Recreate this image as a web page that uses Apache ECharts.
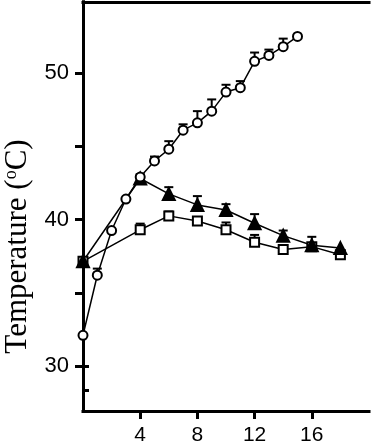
<!DOCTYPE html>
<html>
<head>
<meta charset="utf-8">
<script src="https://cdn.jsdelivr.net/npm/echarts@6/dist/echarts.min.js"></script>
<style>
  html, body { margin: 0; padding: 0; background: #fff; }
  #chart { width: 371px; height: 447px; }
</style>
</head>
<body>
<div id="chart"></div>
<script>
// open circles, hourly
const hoursA = [0, 1, 2, 3, 4, 5, 6, 7, 8, 9, 10, 11, 12, 13, 14, 15];
const circleTemp = [32.1, 36.2, 39.25, 41.4, 42.9, 44.0, 44.8, 46.1, 46.6, 47.4, 48.7, 49.0, 50.8, 51.2, 51.8, 52.5];
const circleErr = [0, 0.45, 0, 0, 0.2, 0.3, 0.55, 0.4, 0.8, 0.8, 0.5, 0.45, 0.6, 0.4, 0.55, 0];

// filled triangles and open squares, every 2 h
const hoursB = [0, 4, 6, 8, 10, 12, 14, 16, 18];
const triTemp = [37.15, 42.8, 41.75, 41.0, 40.65, 39.75, 38.9, 38.25, 38.05];
const triErr = [0, 0.2, 0.46, 0.6, 0.4, 0.62, 0.35, 0.57, 0];
const sqTemp = [37.15, 39.3, 40.25, 39.9, 39.3, 38.45, 37.95, 38.15, 37.6];
const sqErr = [0, 0.42, 0.3, 0, 0.5, 0.5, 0.27, 0.2, 0];

const xTicks = [4, 8, 12, 16];
const yTicks = [30, 35, 40, 45, 50];
const yLabels = [30, 40, 50];

const black = "#000";
const axisLineStyle = { color: black, width: 3, cap: "square" };

function zip(xs, ys) {
  return xs.map((x, i) => [x, ys[i]]);
}
function zipErr(xs, ys, es) {
  return xs.map((x, i) => [x, ys[i], es[i]]);
}

// upper error bar with a cap
function renderErr(params, api) {
  const err = api.value(2);
  if (!err) return null;
  const p = api.coord([api.value(0), api.value(1)]);
  const t = api.coord([api.value(0), api.value(1) + err]);
  const style = { stroke: black, lineWidth: 2 };
  return {
    type: "group",
    children: [
      { type: "line", shape: { x1: p[0], y1: p[1], x2: t[0], y2: t[1] }, style: style },
      { type: "line", shape: { x1: t[0] - 4.5, y1: t[1], x2: t[0] + 4.5, y2: t[1] }, style: style }
    ]
  };
}

function lineSeries(data, symbol, size, fill) {
  return {
    type: "line",
    data: data,
    symbol: symbol,
    symbolSize: size,
    showAllSymbol: true,
    z: 3,
    lineStyle: { color: black, width: 1.5 },
    itemStyle: { color: fill, borderColor: black, borderWidth: 2 },
    emphasis: { disabled: true }
  };
}

function errSeries(data) {
  return {
    type: "custom",
    data: data,
    renderItem: renderErr,
    z: 2,
    silent: true
  };
}

const chart = echarts.init(document.getElementById("chart"));

const option = {
  animation: false,
  grid: [
    { left: 83, right: 2, top: 2, bottom: 36, outerBoundsMode: "none" },
    { left: 83, width: 10, top: 2, bottom: 81, outerBoundsMode: "none" },
    { left: 83, width: 10, top: 390, bottom: 36, outerBoundsMode: "none" }
  ],
  xAxis: [
    {
      gridIndex: 0,
      type: "value",
      min: 0,
      max: 20,
      position: "bottom",
      axisLine: { lineStyle: axisLineStyle },
      axisTick: { customValues: xTicks, length: 8, lineStyle: { color: black, width: 3 } },
      axisLabel: {
        customValues: xTicks,
        margin: 14,
        color: black,
        fontFamily: "Liberation Sans",
        fontSize: 21
      },
      splitLine: { show: false }
    },
    {
      gridIndex: 0,
      type: "value",
      min: 0,
      max: 20,
      position: "top",
      axisLine: { lineStyle: axisLineStyle },
      axisTick: { show: false },
      axisLabel: { show: false },
      splitLine: { show: false }
    },
    { gridIndex: 1, type: "value", show: false },
    { gridIndex: 2, type: "value", show: false }
  ],
  yAxis: [
    {
      gridIndex: 0,
      type: "value",
      min: 26.93,
      max: 54.85,
      position: "left",
      axisLine: { show: false },
      axisTick: { customValues: yTicks, length: 8, lineStyle: { color: black, width: 3 } },
      axisLabel: {
        customValues: yLabels,
        margin: 14,
        color: black,
        fontFamily: "Liberation Sans",
        fontSize: 22
      },
      splitLine: { show: false },
      name: "{t|Temperature (}{s|o}{t|C)}",
      nameLocation: "middle",
      nameGap: 39,
      nameTextStyle: {
        padding: [0, 80, 0, 0],
        rich: {
          t: { fontFamily: "Liberation Serif", fontSize: 31, color: black },
          s: { fontFamily: "Liberation Serif", fontSize: 18, color: black, verticalAlign: "top" }
        }
      }
    },
    {
      gridIndex: 0,
      type: "value",
      min: 26.93,
      max: 54.85,
      position: "right",
      axisLine: { show: true, lineStyle: axisLineStyle },
      axisTick: { show: false },
      axisLabel: { show: false },
      splitLine: { show: false }
    },
    {
      gridIndex: 1,
      type: "value",
      min: 0,
      max: 1,
      position: "left",
      axisLine: { show: true, lineStyle: axisLineStyle },
      axisTick: { inside: true, customValues: [0], length: 6, lineStyle: { color: black, width: 3 } },
      axisLabel: { show: false },
      splitLine: { show: false }
    },
    {
      gridIndex: 2,
      type: "value",
      min: 0,
      max: 1,
      position: "left",
      axisLine: { show: true, lineStyle: axisLineStyle },
      axisTick: { inside: true, customValues: [1], length: 6, lineStyle: { color: black, width: 3 } },
      axisLabel: { show: false },
      splitLine: { show: false }
    }
  ],
  series: [
    errSeries(zipErr(hoursB, sqTemp, sqErr)),
    errSeries(zipErr(hoursB, triTemp, triErr)),
    errSeries(zipErr(hoursA, circleTemp, circleErr)),
    lineSeries(zip(hoursB, sqTemp), "rect", 9, "#fff"),
    lineSeries(zip(hoursB, triTemp), "triangle", 12, black),
    lineSeries(zip(hoursA, circleTemp), "circle", 9, "#fff")
  ]
};

chart.setOption(option);
</script>
</body>
</html>
